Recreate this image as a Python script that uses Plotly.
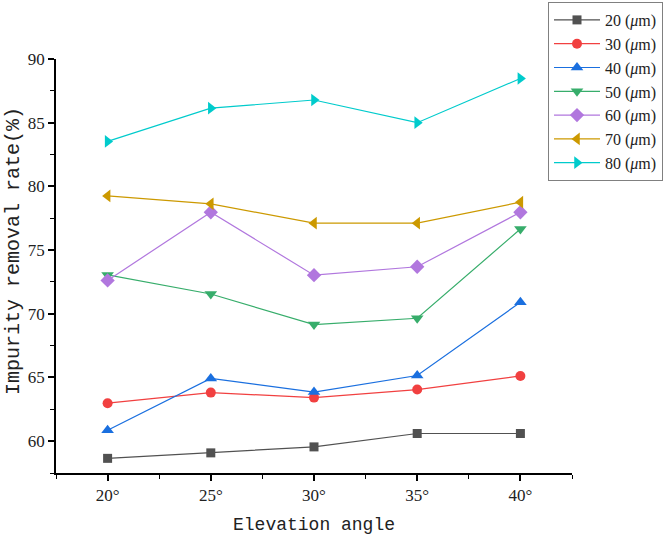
import plotly.graph_objects as go

angles = [20, 25, 30, 35, 40]
angle_labels = ["20°", "25°", "30°", "35°", "40°"]

series_names = ["20 (<i>μ</i>m)", "30 (<i>μ</i>m)", "40 (<i>μ</i>m)", "50 (<i>μ</i>m)",
                "60 (<i>μ</i>m)", "70 (<i>μ</i>m)", "80 (<i>μ</i>m)"]

rate_20 = [58.65, 59.08, 59.55, 60.60, 60.60]
rate_30 = [62.98, 63.81, 63.42, 64.05, 65.12]
rate_40 = [60.85, 64.92, 63.85, 65.15, 70.90]
rate_50 = [73.05, 71.55, 69.15, 69.65, 76.65]
rate_60 = [72.62, 77.97, 73.03, 73.69, 77.97]
rate_70 = [79.25, 78.63, 77.11, 77.11, 78.76]
rate_80 = [83.53, 86.14, 86.78, 85.00, 88.47]

all_rates = [rate_20, rate_30, rate_40, rate_50, rate_60, rate_70, rate_80]

colors = ["#515151", "#F14040", "#1A6FDF", "#37AD6B", "#B177DE", "#CC9900", "#00CBCC"]
symbols = ["square", "circle", "triangle-up", "triangle-down", "diamond", "triangle-left", "triangle-right"]
sizes = [9, 10, 11, 11, 11, 11, 11]

fig = go.Figure()
for name, ys, c, s, sz in zip(series_names, all_rates, colors, symbols, sizes):
    fig.add_trace(go.Scatter(
        x=angles, y=ys, name=name, mode="lines+markers",
        line=dict(color=c, width=1.2),
        marker=dict(color=c, symbol=s, size=sz, line=dict(width=0)),
    ))

tick_font = dict(family="Liberation Serif", size=17, color="#222")
title_font = dict(family="Liberation Mono", size=18, color="#222")

fig.update_layout(
    width=668, height=535,
    margin=dict(l=56, r=96, t=59, b=62, autoexpand=False),
    paper_bgcolor="white", plot_bgcolor="white",
    showlegend=True,
    legend=dict(
        xref="container", yref="container",
        x=548 / 668, y=1 - 2 / 535, xanchor="left", yanchor="top",
        bgcolor="white", bordercolor="#808080", borderwidth=1,
        font=dict(family="Liberation Serif", size=16, color="#222"),
        tracegroupgap=0, itemwidth=46,
    ),
    xaxis=dict(
        range=[17.5, 42.5], tickvals=angles, ticktext=angle_labels,
        showline=True, linecolor="black", linewidth=1.5,
        ticks="outside", ticklen=6, tickwidth=1.5, tickcolor="black",
        minor=dict(ticks="outside", ticklen=4, tickwidth=1.2, tickcolor="black", dtick=2.5, tick0=17.5),
        showgrid=False, zeroline=False, tickfont=tick_font,
        title=dict(text="Elevation angle", font=title_font, standoff=13),
    ),
    yaxis=dict(
        range=[57.5, 90], tickmode="array", tickvals=[60, 65, 70, 75, 80, 85, 90],
        showline=True, linecolor="black", linewidth=1.5,
        ticks="outside", ticklen=6, tickwidth=1.5, tickcolor="black",
        minor=dict(ticks="outside", ticklen=4, tickwidth=1.2, tickcolor="black", dtick=2.5, tick0=57.5),
        showgrid=False, zeroline=False, tickfont=tick_font,
    ),
    annotations=[dict(
        text="Impurity removal rate(%)", textangle=-90, showarrow=False,
        xref="paper", yref="paper", x=(14 - 56) / 516, y=(473 - 251) / 414,
        xanchor="center", yanchor="middle",
        font=dict(family="Liberation Mono", size=20, color="#222"),
    )],
)

fig.write_html("out.html", config={"displayModeBar": False},
               post_script="document.body.style.margin='0';")
